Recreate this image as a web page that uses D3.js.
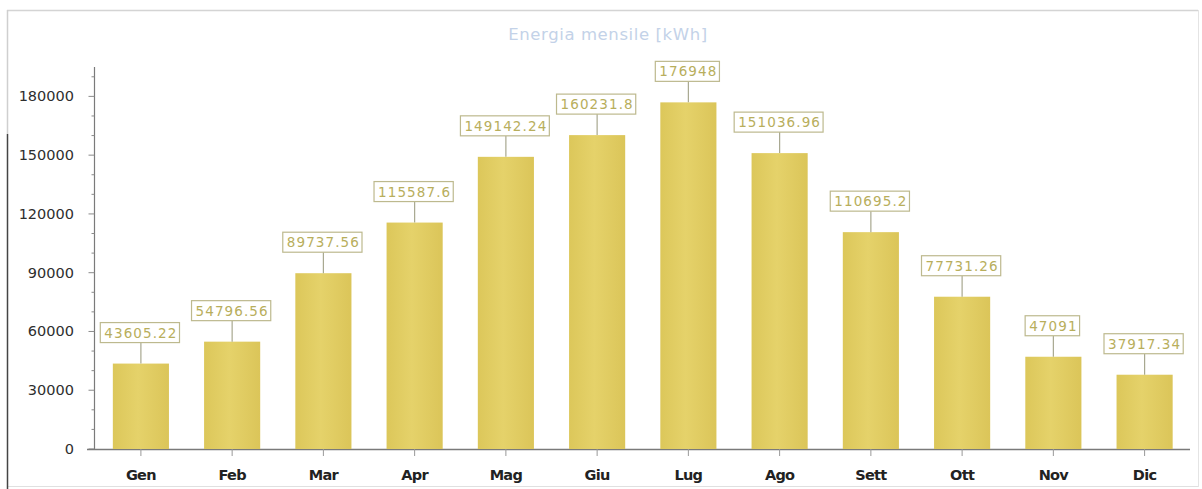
<!DOCTYPE html>
<html>
<head>
<meta charset="utf-8">
<script src="https://cdn.jsdelivr.net/npm/d3@7"></script>
<style>
  html, body { margin: 0; padding: 0; background: #ffffff; }
  svg { display: block; }
</style>
</head>
<body>
<svg id="chart" width="1202" height="489"></svg>
<script>
// Monthly energy production (kWh)
const months = ["Gen", "Feb", "Mar", "Apr", "Mag", "Giu", "Lug", "Ago", "Sett", "Ott", "Nov", "Dic"];
const energy = [43605.22, 54796.56, 89737.56, 115587.6, 149142.24, 160231.8, 176948, 151036.96, 110695.2, 77731.26, 47091, 37917.34];
const valueLabels = ["43605.22", "54796.56", "89737.56", "115587.6", "149142.24", "160231.8", "176948", "151036.96", "110695.2", "77731.26", "47091", "37917.34"];
const yTicks = [0, 30000, 60000, 90000, 120000, 150000, 180000];
const title = "Energia mensile [kWh]";

const svg = d3.select("#chart");

// Outer frame
const frame = svg.append("g");
frame.append("line").attr("x1", 7).attr("x2", 1198).attr("y1", 10.5).attr("y2", 10.5)
  .attr("stroke", "#d4d4d4").attr("stroke-width", 1.5);
frame.append("line").attr("x1", 1198.5).attr("x2", 1198.5).attr("y1", 10).attr("y2", 487)
  .attr("stroke", "#e4e4e4").attr("stroke-width", 1);
frame.append("line").attr("x1", 7).attr("x2", 1198).attr("y1", 486.5).attr("y2", 486.5)
  .attr("stroke", "#e0e0e0").attr("stroke-width", 1);
frame.append("line").attr("x1", 7.5).attr("x2", 7.5).attr("y1", 10).attr("y2", 134)
  .attr("stroke", "#cfcfcf").attr("stroke-width", 1.5);
frame.append("line").attr("x1", 7.5).attr("x2", 7.5).attr("y1", 134).attr("y2", 489)
  .attr("stroke", "#444").attr("stroke-width", 1.5);

// Scales
const x = d3.scaleBand().domain(months).range([95.5, 1190]).paddingInner(0.385).paddingOuter(0.19);
const y = d3.scaleLinear().domain([0, 195000]).range([449, 67]);

// Bar gradient
const defs = svg.append("defs");
const grad = defs.append("linearGradient").attr("id", "barGrad").attr("x1", "0%").attr("x2", "100%");
grad.append("stop").attr("offset", "0%").attr("stop-color", "#dcc75a");
grad.append("stop").attr("offset", "45%").attr("stop-color", "#e5d26a");
grad.append("stop").attr("offset", "100%").attr("stop-color", "#dbc559");

// Title
svg.append("text")
  .attr("x", 608).attr("y", 40)
  .attr("text-anchor", "middle")
  .attr("font-family", "DejaVu Sans, sans-serif")
  .attr("font-size", 16.5)
  .attr("letter-spacing", 0.6)
  .attr("fill", "#c3d2e8")
  .text(title);

// Y axis with minor ticks every 10000
const yAxisX = 94.5;
const yMinor = d3.range(0, 195001, 10000);
const yAxisG = svg.append("g");
yAxisG.append("line").attr("x1", yAxisX).attr("x2", yAxisX).attr("y1", y(195000)).attr("y2", y(0))
  .attr("stroke", "#7a7a7a").attr("stroke-width", 1.2);
yAxisG.selectAll("line.minor").data(yMinor).join("line").attr("class", "minor")
  .attr("x1", d => yTicks.includes(d) ? yAxisX - 6 : yAxisX - 3)
  .attr("x2", yAxisX)
  .attr("y1", d => y(d)).attr("y2", d => y(d))
  .attr("stroke", "#8a8a8a").attr("stroke-width", 1);
yAxisG.selectAll("text").data(yTicks).join("text")
  .attr("x", 74).attr("y", d => y(d) + 5)
  .attr("text-anchor", "end")
  .attr("font-family", "DejaVu Sans, sans-serif")
  .attr("font-size", 14.5)
  .attr("fill", "#2e2e2e")
  .text(d => d);

// X axis
const xAxisG = svg.append("g");
xAxisG.append("line").attr("x1", 87).attr("x2", 1190).attr("y1", y(0) + 0.5).attr("y2", y(0) + 0.5)
  .attr("stroke", "#7a7a7a").attr("stroke-width", 1.4);

// Bars
svg.append("g").selectAll("rect").data(months).join("rect")
  .attr("x", d => x(d))
  .attr("width", x.bandwidth())
  .attr("y", (d, i) => y(energy[i]))
  .attr("height", (d, i) => y(0) - y(energy[i]))
  .attr("fill", "url(#barGrad)");

xAxisG.selectAll("line.tick").data(months).join("line").attr("class", "tick")
  .attr("x1", d => x(d) + x.bandwidth() / 2).attr("x2", d => x(d) + x.bandwidth() / 2)
  .attr("y1", y(0)).attr("y2", y(0) + 7)
  .attr("stroke", "#999").attr("stroke-width", 1);
xAxisG.selectAll("text").data(months).join("text")
  .attr("x", d => x(d) + x.bandwidth() / 2)
  .attr("y", 480)
  .attr("text-anchor", "middle")
  .attr("font-family", "DejaVu Sans, sans-serif")
  .attr("font-weight", "bold")
  .attr("font-size", 14.5)
  .attr("letter-spacing", -0.7)
  .attr("fill", "#222")
  .text(d => d);

// Value labels: boxed text connected to the bar top
const lab = svg.append("g").selectAll("g").data(months).join("g");
const boxH = 20, gap = 21;
lab.each(function (d, i) {
  const g = d3.select(this);
  const cx = x(d) + x.bandwidth() / 2;
  const top = y(energy[i]);
  const boxBottom = top - gap;
  g.append("line").attr("x1", cx).attr("x2", cx).attr("y1", boxBottom).attr("y2", top)
    .attr("stroke", "#a8a890").attr("stroke-width", 1.2);
  const t = g.append("text")
    .attr("x", cx).attr("y", boxBottom - 5)
    .attr("text-anchor", "middle")
    .attr("font-family", "DejaVu Sans, sans-serif")
    .attr("font-size", 13.5)
    .attr("letter-spacing", 1.1)
    .attr("fill", "#b8ae5c")
    .text(valueLabels[i]);
  const w = t.node().getComputedTextLength() + 6;
  g.insert("rect", "text")
    .attr("x", cx - w / 2 - 1).attr("y", boxBottom - boxH)
    .attr("width", w).attr("height", boxH)
    .attr("fill", "#ffffff")
    .attr("stroke", "#bdb98e").attr("stroke-width", 1.2);
});
</script>
</body>
</html>
